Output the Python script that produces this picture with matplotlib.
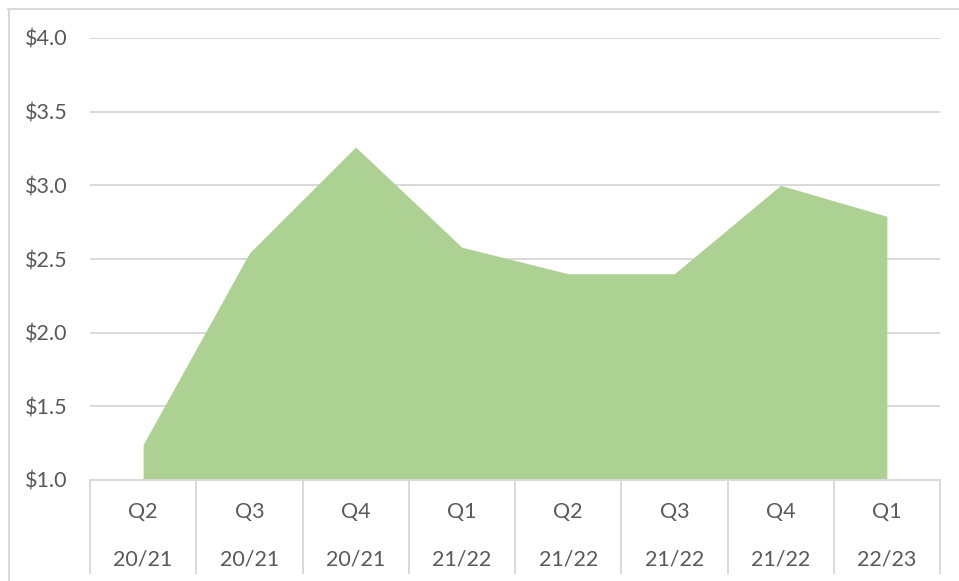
"""
Quarterly area chart, Excel-style with two-level category axis.
"""

import matplotlib
matplotlib.use("Agg")
import matplotlib.pyplot as plt
from matplotlib.lines import Line2D

quarters = ["Q2", "Q3", "Q4", "Q1", "Q2", "Q3", "Q4", "Q1"]
years = ["20/21", "20/21", "20/21", "21/22", "21/22", "21/22", "21/22", "22/23"]
values = [1.24, 2.54, 3.26, 2.58, 2.40, 2.40, 3.00, 2.79]
y_ticks = [1.0, 1.5, 2.0, 2.5, 3.0, 3.5, 4.0]

GRID = "#D9D9D9"
TEXT = "#595959"
FILL = "#ADD192"
FS = 15.5

plt.rcParams["font.family"] = ["Lato", "DejaVu Sans"]

W, H = 959, 581
fig = plt.figure(figsize=(W / 100, H / 100), dpi=100)
ax = fig.add_axes([90 / W, 1 - 480 / H, 850 / W, 442 / H])

x = list(range(len(values)))
ax.fill_between(x, y_ticks[0], values, color=FILL, linewidth=0, zorder=2)

ax.set_xlim(-0.5, len(values) - 0.5)
ax.set_ylim(y_ticks[0], y_ticks[-1])
ax.set_yticks(y_ticks)
ax.set_yticklabels([f"${v:.1f}" for v in y_ticks], color=TEXT, fontsize=FS)
ax.tick_params(axis="y", length=0, pad=16)
ax.set_xticks([])
for yv in y_ticks[1:]:
    ax.axhline(yv, color=GRID, lw=1.4, zorder=1)

for s in ["top", "right", "left"]:
    ax.spines[s].set_visible(False)
ax.spines["bottom"].set_color(GRID)
ax.spines["bottom"].set_linewidth(1.4)
ax.spines["bottom"].set_zorder(3)

# two-level category table under the axis
trans = ax.get_xaxis_transform()
table_bottom = (480 - 573) / 442
for i in range(len(values) + 1):
    ax.add_line(Line2D([i - 0.5, i - 0.5], [0, table_bottom], transform=trans,
                       color=GRID, lw=1.4, clip_on=False))
for i, (q, yr) in enumerate(zip(quarters, years)):
    ax.text(i, (480 - 512) / 442, q, transform=trans, ha="center", va="center",
            color=TEXT, fontsize=FS)
    ax.text(i, (480 - 559) / 442, yr, transform=trans, ha="center", va="center",
            color=TEXT, fontsize=FS)

# outer chart border (left and top visible)
fig.add_artist(Line2D([8.5 / W, 8.5 / W], [0, 1 - 9 / H], color=GRID, lw=1.5))
fig.add_artist(Line2D([8 / W, 1], [1 - 9 / H, 1 - 9 / H], color=GRID, lw=1.5))

fig.savefig("out.png", dpi=100, facecolor="white")
